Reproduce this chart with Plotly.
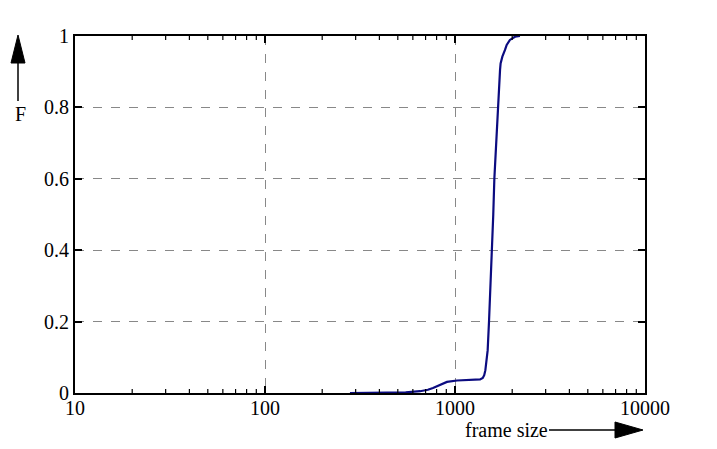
import plotly.graph_objects as go

# cumulative distribution of frame size
frame_size = [280, 350, 450, 550, 655, 720, 766, 830, 907, 1025, 1200, 1355,
              1400, 1425, 1445, 1465, 1486, 1510, 1540, 1566, 1590, 1611, 1635,
              1657, 1678, 1700, 1714, 1726, 1738, 1775, 1833, 1871, 1945, 2070, 2197]
cdf = [0, 0, 0.001, 0.002, 0.005, 0.009, 0.014, 0.022, 0.031, 0.035, 0.036, 0.038,
       0.042, 0.05, 0.064, 0.09, 0.12, 0.2, 0.3, 0.4, 0.5, 0.6, 0.67,
       0.72, 0.8, 0.85, 0.877, 0.905, 0.923, 0.942, 0.961, 0.975, 0.989, 0.998, 1.0]

y_ticks = [0, 0.2, 0.4, 0.6, 0.8, 1]
y_labels = ["0", "0.2", "0.4", "0.6", "0.8", "1"]

# page has an 8px body margin, so the figure sits at (8, 8)
OFF = 8
W, H = 701, 433
L, R, T, B = 67, 64, 28, 48
pw, ph = W - L - R, H - T - B


def px(x):
    # window pixel x -> paper
    return (x - OFF - L) / pw


def py(y):
    # window pixel y -> paper
    return (H - B - (y - OFF)) / ph


font = dict(family="Liberation Serif", size=20, color="black")

fig = go.Figure()
fig.add_trace(go.Scatter(x=frame_size, y=cdf, mode="lines",
                         line=dict(color="#0b0b80", width=2.2),
                         showlegend=False))

axis_common = dict(showline=True, linecolor="black", linewidth=2, mirror="ticks",
                   ticks="inside", ticklen=7, tickwidth=1.5, tickcolor="black",
                   showgrid=True, gridcolor="#888888", griddash="dash", gridwidth=1,
                   zeroline=False, tickfont=font)

fig.update_layout(
    width=W, height=H,
    margin=dict(l=L, r=R, t=T, b=B),
    plot_bgcolor="white", paper_bgcolor="white",
    font=font,
    xaxis=dict(type="log", range=[1, 4], tickmode="linear", tick0=0, dtick=1,
               tickformat="d", ticklabelstandoff=-4, **axis_common),
    yaxis=dict(range=[0, 1], tickvals=y_ticks, ticktext=y_labels, **axis_common),
)

# minor ticks 2..9 in every decade, bottom and top, drawn as short lines
minor_vals = [m * 10 ** d for d in range(1, 4) for m in range(2, 10)]
mlen = 4 / ph
for v in minor_vals:
    for y0, y1 in [(0, mlen), (1 - mlen, 1)]:
        fig.add_shape(type="line", xref="x", yref="paper", x0=v, x1=v, y0=y0, y1=y1,
                      line=dict(color="black", width=1.2))

# axis labels with arrows
fig.add_annotation(x=px(20), y=py(114), xref="paper", yref="paper", text="F",
                   xanchor="center", yanchor="middle", showarrow=False, font=font)
fig.add_annotation(x=px(506), y=py(430), xref="paper", yref="paper", text="frame size",
                   xanchor="center", yanchor="middle", showarrow=False, font=font)

shapes = [
    dict(type="line", x0=px(18), y0=py(101), x1=px(18), y1=py(62),
         line=dict(color="black", width=1.5)),
    dict(type="path", path="M {} {} L {} {} L {} {} Z".format(
        px(11), py(63), px(18), py(35), px(25), py(63)),
         fillcolor="black", line=dict(color="black", width=1)),
    dict(type="line", x0=px(549), y0=py(430), x1=px(616), y1=py(430),
         line=dict(color="black", width=1.5)),
    dict(type="path", path="M {} {} L {} {} L {} {} Z".format(
        px(615), py(422), px(643), py(430), px(615), py(438)),
         fillcolor="black", line=dict(color="black", width=1)),
]
for s in shapes:
    s.update(xref="paper", yref="paper")
    fig.add_shape(**s)

fig.write_html("out.html")
